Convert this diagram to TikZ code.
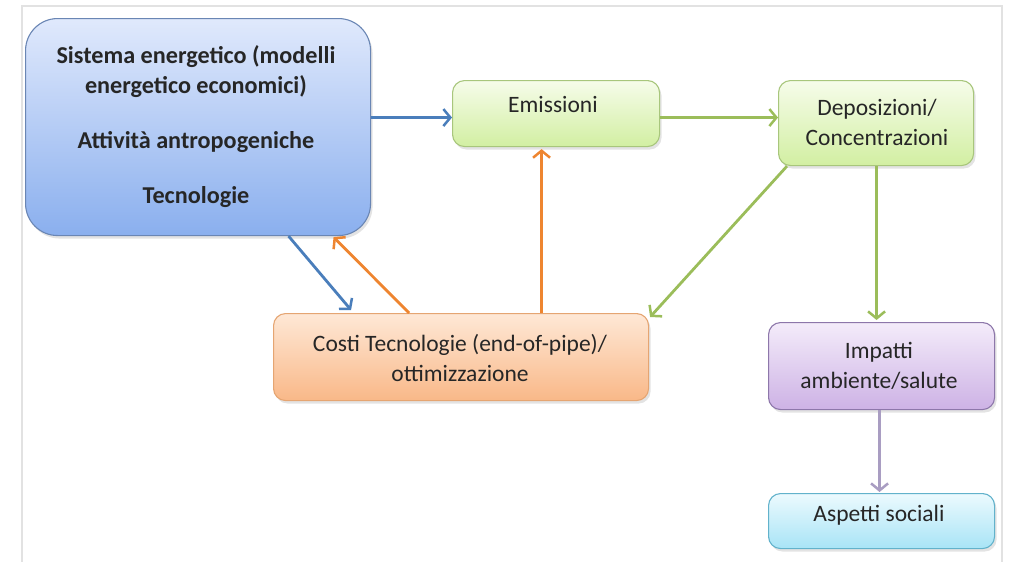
\documentclass[tikz,border=0pt]{standalone}
\usepackage{fontspec}
\setmainfont{Carlito}
\usetikzlibrary{arrows.meta,shadows}
\definecolor{txt}{HTML}{262626}
\definecolor{frame}{HTML}{E2E2E2}
\definecolor{bTop}{HTML}{E0E9FC}\definecolor{bBot}{HTML}{8AAFEE}\definecolor{bLine}{HTML}{6A86B4}
\definecolor{gTop}{HTML}{F6FCEA}\definecolor{gBot}{HTML}{D2EFA2}\definecolor{gLine}{HTML}{A8C67C}
\definecolor{oTop}{HTML}{FEE8D6}\definecolor{oBot}{HTML}{F9B888}\definecolor{oLine}{HTML}{E5A572}
\definecolor{pTop}{HTML}{F4ECFA}\definecolor{pBot}{HTML}{CDB2E5}\definecolor{pLine}{HTML}{8D77AA}
\definecolor{cTop}{HTML}{ECFAFE}\definecolor{cBot}{HTML}{A8E4F6}\definecolor{cLine}{HTML}{62B2CB}
\definecolor{aBlue}{HTML}{4A7EBB}\definecolor{aOrange}{HTML}{EE8530}
\definecolor{aGreen}{HTML}{9BBD5A}\definecolor{aPurple}{HTML}{A99DC2}
\tikzset{
  box/.style={draw, line width=1.1pt, rounded corners=12pt, anchor=north west,
    inner sep=0pt, drop shadow={opacity=0.22, shadow xshift=2pt, shadow yshift=-3pt}},
  lbl/.style={text=txt, font=\fontsize{23.5}{30}\selectfont, align=center},
  conn/.style={line width=2.8pt, -{Straight Barb[length=7pt,width=17pt,line width=2.5pt]}},
}
\begin{document}
\begin{tikzpicture}[x=1pt,y=-1pt]
\useasboundingbox (0,0) rectangle (1010,562);
\draw[frame, line width=2pt] (22,562) -- (22,6) -- (1002,6) -- (1002,562);
% boxes
\node[box, rounded corners=32pt, draw=bLine, top color=bTop, bottom color=bBot,
      minimum width=345pt, minimum height=217pt] (sys) at (25,18) {};
\node[box, draw=gLine, top color=gTop, bottom color=gBot,
      minimum width=207pt, minimum height=66pt] (emi) at (452,80) {};
\node[box, draw=gLine, top color=gTop, bottom color=gBot,
      minimum width=195pt, minimum height=85pt] (dep) at (778,80) {};
\node[box, draw=oLine, top color=oTop, bottom color=oBot,
      minimum width=375pt, minimum height=87pt] (cost) at (273,313) {};
\node[box, draw=pLine, top color=pTop, bottom color=pBot,
      minimum width=226pt, minimum height=87pt] (imp) at (768,322) {};
\node[box, draw=cLine, top color=cTop, bottom color=cBot,
      minimum width=226pt, minimum height=55pt] (asp) at (768,493) {};
% texts
\node[lbl, font=\bfseries\fontsize{24.2}{30}\selectfont] (systxt) at (196,127)
  {Sistema energetico (modelli\\ energetico economici)\\[25pt] Attività antropogeniche\\[25pt] Tecnologie};
\node[lbl] (emitxt) at (553,105) {Emissioni};
\node[lbl] (deptxt) at (877,122) {Deposizioni/\\ Concentrazioni};
\node[lbl] (costtxt) at (460,358) {Costi Tecnologie (end-of-pipe)/\\ ottimizzazione};
\node[lbl] (imptxt) at (879,366) {Impatti\\ ambiente/salute};
\node[lbl] (asptxt) at (879,515) {Aspetti sociali};
% connectors
\draw[conn, aBlue] ([yshift=9.5pt]sys.east) -- ([yshift=-4pt]emi.west);
\draw[conn, aGreen] ([yshift=-4pt]emi.east) -- ([yshift=5.5pt]dep.west);
\draw[conn, aBlue] ([xshift=90.5pt]sys.south) -- ([xshift=-110pt,yshift=3pt]cost.north);
\draw[conn, aOrange] ([xshift=-52pt]cost.north) -- ([xshift=135.5pt,yshift=-1pt]sys.south);
\draw[conn, aOrange] ([xshift=80.5pt]cost.north) -- ([xshift=-14.5pt,yshift=-2pt]emi.south);
\draw[conn, aGreen] ([xshift=9pt,yshift=0pt]dep.south west) -- ([xshift=1pt,yshift=-4pt]cost.north east);
\draw[conn, aGreen] ([xshift=0.5pt]dep.south) -- ([xshift=-5pt,yshift=2pt]imp.north);
\draw[conn, aPurple] ([xshift=-2pt]imp.south) -- ([xshift=-2pt,yshift=1pt]asp.north);
\end{tikzpicture}
\end{document}
